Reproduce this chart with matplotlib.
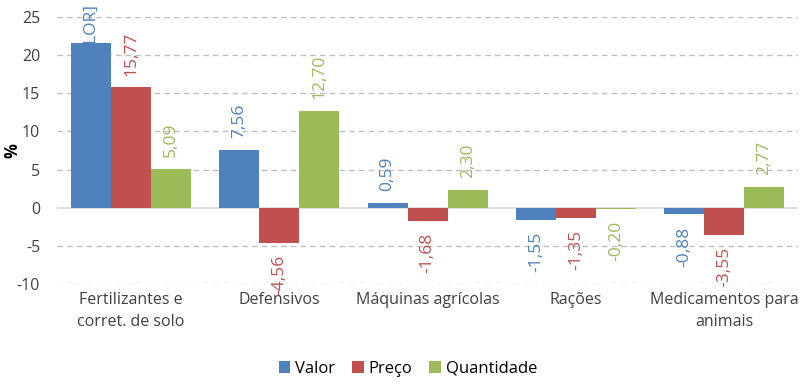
import matplotlib.pyplot as plt
import numpy as np

categories = ["Fertilizantes e\ncorret. de solo", "Defensivos", "Máquinas agrícolas",
              "Rações", "Medicamentos para\nanimais"]
valor = [21.65, 7.56, 0.59, -1.55, -0.88]
preco = [15.77, -4.56, -1.68, -1.35, -3.55]
quantidade = [5.09, 12.70, 2.30, -0.20, 2.77]
series_names = ["Valor", "Preço", "Quantidade"]
colors = ["#4F81BD", "#C0504D", "#9BBB59"]

plt.rcParams['font.family'] = ['Open Sans', 'DejaVu Sans']
plt.rcParams['axes.unicode_minus'] = False

fig = plt.figure(figsize=(8, 3.87), dpi=100)
ax = fig.add_axes([0.071, 0.266, 0.927, 0.69])

x = np.arange(len(categories))
w = 0.27
for i, (vals, name, c) in enumerate(zip([valor, preco, quantidade], series_names, colors)):
    pos = x + (i - 1) * w
    ax.bar(pos, vals, w, color=c, label=name, zorder=3)
    for j, (p, v) in enumerate(zip(pos, vals)):
        if i == 0 and j == 0:
            # label placeholder pushed against the top, partly hidden in the bar
            ax.text(p, 1.052, "[VALOR]", transform=ax.get_xaxis_transform(),
                    rotation=90, ha="center", va="top", color=c, fontsize=12.5,
                    zorder=2, clip_on=False)
            continue
        txt = f"{v:.2f}".replace(".", ",")
        if v >= 0:
            ax.annotate(txt, (p, v), xytext=(0, 8.5), textcoords="offset points",
                        rotation=90, ha="center", va="bottom", color=c, fontsize=12.5,
                        annotation_clip=False)
        else:
            ax.annotate(txt, (p, v), xytext=(0, -8.5), textcoords="offset points",
                        rotation=90, ha="center", va="top", color=c, fontsize=12.5,
                        annotation_clip=False)

ax.set_xlim(-0.5, len(categories) - 0.5)
ax.set_ylim(-10, 25)
ax.set_yticks(range(-10, 30, 5))
ax.set_xticks(x)
ax.set_xticklabels(categories, fontsize=11.5, color="#404040", linespacing=1.45)
ax.tick_params(axis="y", labelsize=11.5, labelcolor="#404040", length=0, pad=12)
ax.tick_params(axis="x", length=0, pad=6)
for y in range(-10, 30, 5):
    if y != 0:
        ax.axhline(y, color="#BFBFBF", linestyle=(0, (4, 3)), linewidth=1, zorder=1)
ax.axhline(0, color="#D9D9D9", linewidth=1.2, zorder=2)
for s in ax.spines.values():
    s.set_visible(False)
ax.set_ylabel("%", fontsize=12, fontweight="bold")
ax.yaxis.set_label_coords(-0.047, 0.5)

fig.legend(loc="lower center", ncol=3, frameon=False, fontsize=12,
           bbox_to_anchor=(0.51, -0.012), handlelength=0.7, handleheight=0.7,
           handletextpad=0.3, columnspacing=1.0)

plt.savefig("out.png", dpi=100)
